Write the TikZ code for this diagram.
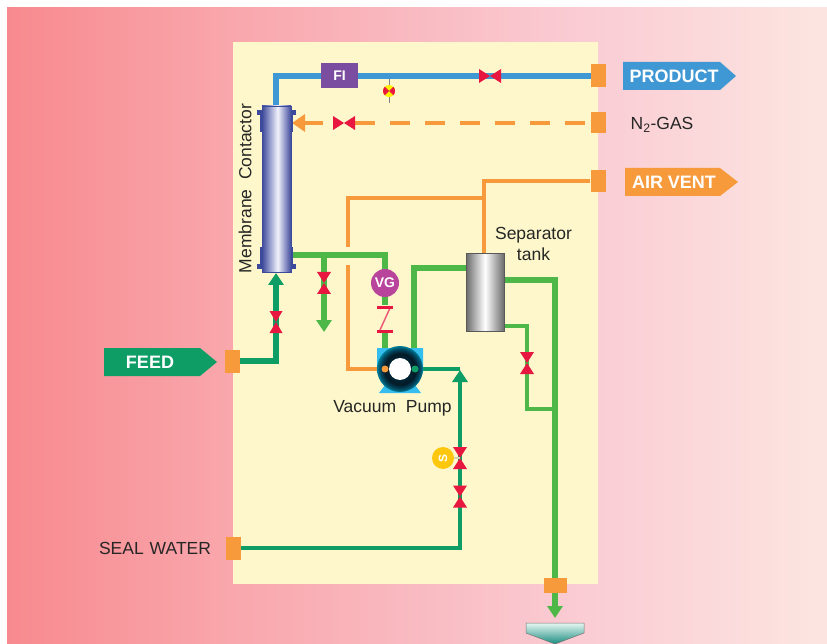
\documentclass[tikz,border=0pt]{standalone}
\usepackage{fontspec}
\setmainfont{Liberation Sans}
\usetikzlibrary{arrows.meta}
\definecolor{panel}{HTML}{FDF7CB}
\definecolor{pgreen}{HTML}{4DB848}
\definecolor{pteal}{HTML}{0F9D66}
\definecolor{pblue}{HTML}{3F97D3}
\definecolor{porange}{HTML}{F79A3B}
\definecolor{pred}{HTML}{E8173F}
\definecolor{ppurple}{HTML}{7B4DA0}
\definecolor{pmag}{HTML}{B9449B}
\definecolor{pyellow}{HTML}{FDC70E}
\definecolor{pcyan}{HTML}{35BDEE}
\definecolor{mdark}{HTML}{3C4A9C}
\pgfdeclarehorizontalshading{bgshade}{100bp}{
  rgb(0bp)=(0.97,0.54,0.56); rgb(25bp)=(0.97,0.54,0.56);
  rgb(38bp)=(0.975,0.65,0.67); rgb(60bp)=(0.98,0.80,0.83);
  rgb(75bp)=(0.99,0.90,0.88); rgb(100bp)=(0.99,0.90,0.88)}
\pgfdeclarehorizontalshading{tankshade}{100bp}{
  rgb(0bp)=(0.42,0.42,0.42); rgb(25bp)=(0.42,0.42,0.42);
  rgb(50bp)=(1,1,1); rgb(75bp)=(0.42,0.42,0.42); rgb(100bp)=(0.42,0.42,0.42)}
\pgfdeclarehorizontalshading{memshade}{100bp}{
  rgb(0bp)=(0.24,0.29,0.61); rgb(25bp)=(0.24,0.29,0.61);
  rgb(52bp)=(0.95,0.95,0.99); rgb(75bp)=(0.24,0.29,0.61); rgb(100bp)=(0.24,0.29,0.61)}
\pgfdeclareverticalshading{basinshade}{100bp}{
  rgb(0bp)=(0.1,0.55,0.5); rgb(25bp)=(0.1,0.55,0.5);
  rgb(75bp)=(0.9,0.97,0.95); rgb(100bp)=(0.9,0.97,0.95)}
\pgfdeclareradialshading{pumpshade}{\pgfpoint{0bp}{0bp}}{
  rgb(0bp)=(0,0.1,0.15); rgb(12bp)=(0,0.14,0.2); rgb(17bp)=(0.02,0.1,0.15);
  rgb(22bp)=(0,0.3,0.4); rgb(25bp)=(0,0.5,0.6); rgb(50bp)=(0,0.5,0.6)}
\tikzset{
  x=1pt,y=-1pt,
  txt/.style={inner sep=0pt,font=\fontsize{17.5}{21}\selectfont,text=black!85},
  lbl/.style={inner sep=0pt,font=\fontsize{18}{21}\selectfont\bfseries,text=white},
  small/.style={inner sep=0pt,font=\fontsize{14}{16}\selectfont\bfseries,text=white},
  port/.style={fill=porange,minimum width=15pt,minimum height=23pt,inner sep=0pt},
  thick pipe/.style={line width=6.5pt},
  thin pipe/.style={line width=3.5pt},
  hvalve/.style={minimum width=22pt,minimum height=14pt,inner sep=0pt,
    path picture={\fill[pred] (path picture bounding box.north west)
      -- (path picture bounding box.south west) -- (path picture bounding box.north east)
      -- (path picture bounding box.south east) -- cycle;}},
  vvalve/.style={minimum width=14pt,minimum height=22pt,inner sep=0pt,
    path picture={\fill[pred] (path picture bounding box.north west)
      -- (path picture bounding box.north east) -- (path picture bounding box.south west)
      -- (path picture bounding box.south east) -- cycle;}},
  flowtip/.style={-{Triangle[length=12pt,width=15pt]}},
}
\begin{document}
\begin{tikzpicture}
\useasboundingbox (0,0) rectangle (827,644);
\shade[shading=bgshade] (7,8) rectangle (827,644);
\fill[panel] (233,42) rectangle (598,584);

% named points of the pipe routes
\coordinate (bluecorner) at (276,76);
\coordinate (airtee) at (484,181);
\coordinate (airbranch) at (484,198);
\coordinate (aircorner) at (348,198);
\coordinate (airgaptop) at (348,247);
\coordinate (airgapbot) at (348,265);
\coordinate (airlow) at (348,369);
\coordinate (greenstart) at (291,255);
\coordinate (greencorner) at (385,255);
\coordinate (tee) at (324,255);
\coordinate (drain1) at (324,332);
\coordinate (pumpin) at (385,350);
\coordinate (pumpout) at (414,350);
\coordinate (pumpcorner) at (414,268);
\coordinate (tankin) at (466,268);
\coordinate (tankout) at (504,280);
\coordinate (maincorner) at (555,280);
\coordinate (tankout2) at (504,326);
\coordinate (thin1) at (527,326);
\coordinate (thin2) at (527,409);
\coordinate (thin3) at (555,409);
\coordinate (drainend) at (555,618);
\coordinate (sealcorner) at (460,548);
\coordinate (sealtip) at (460,370);
\coordinate (sealtop) at (460,369);
\coordinate (feedcorner) at (276,361);
\coordinate (feedtip) at (276,273);
\coordinate (n2tip) at (292,123);
\coordinate (n2dashend) at (374,123);
\coordinate (n2arrowstart) at (333,123);

% ports
\node[port] (pprod) at (598.5,76) {};
\node[port,minimum height=21pt] (pn2) at (598.5,123) {};
\node[port,minimum height=22pt] (pair) at (598,181) {};
\node[port] (pfeed) at (232.5,361) {};
\node[port] (pseal) at (233.5,548) {};

% pipes
\draw[pblue,thick pipe] (276,106) -- (bluecorner) -- (pprod.west);
\draw[porange,thin pipe,dash pattern=on 20pt off 15pt,dash phase=29pt] (pn2.west) -- (n2dashend);
\draw[porange,thin pipe] (n2dashend) -- (355,123);
\draw[porange,thin pipe,-{Triangle[length=13pt,width=17pt]},shorten <=10pt] (n2arrowstart) -- (n2tip);
\draw[porange,thin pipe] (pair.west) -- (airtee) -- (484,254);
\draw[porange,thin pipe] (airbranch) -- (aircorner) -- (airgaptop);
\draw[porange,thin pipe] (airgapbot) -- (airlow) -- (385,369);
\draw[pgreen,thick pipe] (greenstart) -- (greencorner) -- (pumpin);
\draw[pgreen,thick pipe,flowtip] (tee) -- (drain1);
\draw[pgreen,thick pipe] (pumpout) -- (pumpcorner) -- (tankin);
\draw[pgreen,thick pipe,flowtip] (tankout) -- (maincorner) -- (drainend);
\draw[pgreen,thin pipe] (tankout2) -- (thin1) -- (thin2) -- (thin3);
\draw[pteal,thick pipe,flowtip] (pfeed.east) -- (feedcorner) -- (feedtip);
\draw[pteal,thin pipe,flowtip] (pseal.east) -- (sealcorner) -- (sealtip);
\draw[pteal,thin pipe] (415,369) -- (sealtop);

% drain port above the pipe
\node[minimum width=23pt,minimum height=15pt,inner sep=0pt,fill=porange] (pdrain) at (555.5,585.5) {};

% check valve
\fill[panel] (376,305) rectangle (394,333);
\draw[pred!70,line width=1.5pt] (390,308) -- (380,330);
\fill[pred] (377,305.5) rectangle (393,308.5);
\fill[pred] (377,329.5) rectangle (393,332.5);

% VG gauge
\node[circle,fill=pmag,minimum size=28pt,inner sep=0pt,small] (vg) at (385,283) {VG};

% flow sensor
\draw[gray,line width=1pt] (389,79) -- (389,103);
\node[circle,fill=yellow,minimum size=12pt,inner sep=0pt,
  path picture={\fill[pred] (path picture bounding box.north west)
   -- (path picture bounding box.south west) -- (path picture bounding box.north east)
   -- (path picture bounding box.south east) -- cycle;}] (fs) at (389,91) {};

% FI
\node[fill=ppurple,minimum width=37pt,minimum height=25pt,inner sep=0pt,small] (fi) at (339.5,75.5) {FI};

% valves
\node[hvalve] (v1) at (490,76) {};
\node[hvalve] (v2) at (344,123) {};
\node[vvalve,minimum width=13pt] (v3) at (276,322) {};
\node[vvalve] (v4) at (324,283) {};
\node[vvalve] (v5) at (527,363) {};
\node[vvalve] (v6) at (460,458) {};
\node[vvalve] (v7) at (460,496.5) {};

% S actuator
\draw[panel!70!gray,line width=1.5pt] (452,458) -- (460,458);
\node[circle,fill=pyellow,minimum size=22pt,inner sep=0pt,font=\fontsize{12}{14}\selectfont\bfseries,text=white,rotate=90] (sact) at (443,458) {S};

% membrane contactor
\fill[mdark] (257,110) rectangle (296,115);
\fill[mdark] (260,112) rectangle (293,132);
\fill[mdark] (257,264) rectangle (296,269);
\fill[mdark] (260,247) rectangle (293,267);
\shade[shading=memshade,draw=mdark,line width=0.6pt] (262,106) rectangle (291,272);
\node[txt,rotate=90] (mem) at (245,188.5) {Membrane\ \ Contactor};

% separator tank
\shade[shading=tankshade,draw=black!65,line width=1pt] (466,254) rectangle (504,331);
\node[txt,align=center] (septxt) at (533.5,244) {Separator\\tank};

% pump
\fill[pcyan] (377,348) -- (423,348) -- (423,372) -- (415,385) -- (421,393) -- (379,393) -- (385,385) -- (377,372) -- cycle;
\shade[shading=pumpshade] (400,369) circle (23);
\fill[white] (400,369) circle (11);
\fill[porange] (385,369) circle (3.5);
\fill[pteal] (415,369) circle (3.5);
\node[txt] (vp) at (392.5,408) {Vacuum\ \ Pump};

% side labels
\fill[pblue] (623,62) -- (720,62) -- (736,76) -- (720,90) -- (623,90) -- cycle;
\node[lbl] (lprod) at (674,76) {PRODUCT};
\fill[porange] (625,168) -- (720,168) -- (738,182) -- (720,196) -- (625,196) -- cycle;
\node[lbl] (lair) at (674,182) {AIR VENT};
\fill[pteal] (104,348) -- (200,348) -- (217,362) -- (200,376) -- (104,376) -- cycle;
\node[lbl] (lfeed) at (150,362) {FEED};
\node[txt] (ln2) at (662,125) {N\textsubscript{2}-GAS};
\node[txt] (lseal) at (155,548) {SEAL\hspace{6pt}WATER};

% basin
\shade[shading=basinshade,draw=black!55,line width=0.5pt] (526,623) -- (584,623) -- (584,633) -- (555,644) -- (526,633) -- cycle;
\end{tikzpicture}
\end{document}
